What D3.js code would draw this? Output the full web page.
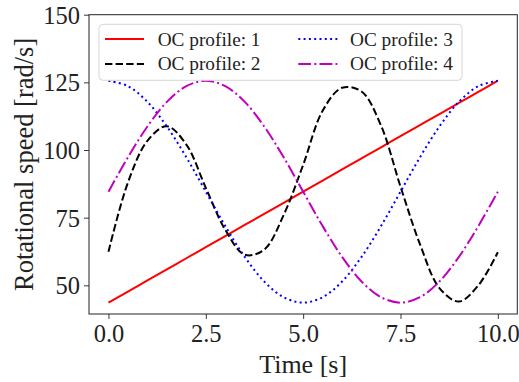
<!DOCTYPE html>
<html>
<head>
<meta charset="utf-8">
<script src="https://cdn.jsdelivr.net/npm/d3@7"></script>
<style>
  body { margin: 0; background: #fff; }
  text { font-family: "Liberation Serif", "Times New Roman", serif; }
</style>
</head>
<body>
<div id="main"></div>
<script>
// time axis (s)
var time = [0, 0.5, 1, 1.5, 2, 2.5, 3, 3.5, 4, 4.5, 5, 5.5, 6, 6.5, 7, 7.5, 8, 8.5, 9, 9.5, 10];

// rotational speed (rad/s)
var profile1 = [43.6, 47.7, 51.8, 55.9, 60.0, 64.1, 68.2, 72.3, 76.4, 80.5, 84.6, 88.7, 92.8, 96.9, 101.0, 105.1, 109.2, 113.3, 117.4, 121.5, 125.6];
var profile2 = [62.4, 88.0, 103.4, 108.8, 102.0, 86.0, 70.5, 61.3, 63.2, 76.0, 94.5, 114.5, 123.0, 121.6, 109.0, 86.5, 65.2, 49.0, 44.0, 50.0, 62.2];
var profile3 = [125.6, 123.6, 117.8, 108.7, 97.3, 84.6, 71.9, 60.5, 51.4, 45.6, 43.6, 45.6, 51.4, 60.5, 71.9, 84.6, 97.3, 108.7, 117.8, 123.6, 125.6];
var profile4 = [84.6, 97.3, 108.7, 117.8, 123.6, 125.6, 123.6, 117.8, 108.7, 97.3, 84.6, 71.9, 60.5, 51.4, 45.6, 43.6, 45.6, 51.4, 60.5, 71.9, 84.6];

var labels = ["OC profile: 1", "OC profile: 2", "OC profile: 3", "OC profile: 4"];
var xTicks = [0, 2.5, 5, 7.5, 10];
var yTicks = [50, 75, 100, 125, 150];

var series = [
  {name: labels[0], values: profile1, color: "#ff0000", dash: null},
  {name: labels[1], values: profile2, color: "#000000", dash: "7.4,3.2"},
  {name: labels[2], values: profile3, color: "#0000ff", dash: "2,3.3"},
  {name: labels[3], values: profile4, color: "#bf00bf", dash: "12.8,3.2,2,3.2"}
];

var W = 519, H = 382;
var plotL = 89, plotR = 517.3, plotT = 14.7, plotB = 314;

var svg = d3.select("#main").append("svg")
    .attr("width", W)
    .attr("height", H);

var x = d3.scaleLinear().domain([-0.5, 10.5]).range([plotL, plotR]);
var y = d3.scaleLinear().domain([39.4, 150]).range([plotB, plotT]);

var line = d3.line()
    .x(function(d) { return x(d[0]); })
    .y(function(d) { return y(d[1]); })
    .curve(d3.curveCatmullRom.alpha(0.5));

series.forEach(function(s) {
  svg.append("path")
      .datum(time.map(function(t, i) { return [t, s.values[i]]; }))
      .attr("d", line)
      .attr("fill", "none")
      .attr("stroke", s.color)
      .attr("stroke-width", 2)
      .attr("stroke-dasharray", s.dash);
});

// axes
var xAxis = svg.append("g")
    .attr("transform", "translate(0," + plotB + ")")
    .call(d3.axisBottom(x).tickValues(xTicks).tickFormat(d3.format(".1f")).tickSizeOuter(0).tickSize(5).tickPadding(6));
var yAxis = svg.append("g")
    .attr("transform", "translate(" + plotL + ",0)")
    .call(d3.axisLeft(y).tickValues(yTicks).tickFormat(d3.format("d")).tickSizeOuter(0).tickSize(5).tickPadding(4));

[xAxis, yAxis].forEach(function(a) {
  a.select(".domain").remove();
  a.selectAll(".tick line").attr("stroke", "#222").attr("stroke-width", 0.9);
  a.selectAll(".tick text")
      .attr("fill", "#222")
      .style("font-family", "'Liberation Serif', serif")
      .style("font-size", "24.5px");
});
yAxis.selectAll(".tick text").attr("dy", "0.34em");

// frame
svg.append("rect")
    .attr("x", plotL).attr("y", plotT)
    .attr("width", plotR - plotL).attr("height", plotB - plotT)
    .attr("fill", "none")
    .attr("stroke", "#222")
    .attr("stroke-width", 1);

// axis labels
svg.append("text")
    .attr("x", (plotL + plotR) / 2).attr("y", 372.5)
    .attr("text-anchor", "middle")
    .attr("fill", "#222")
    .style("font-size", "26px")
    .text("Time [s]");

svg.append("text")
    .attr("transform", "translate(33," + ((plotT + plotB) / 2) + ") rotate(-90)")
    .attr("text-anchor", "middle")
    .attr("fill", "#222")
    .style("font-size", "26.5px")
    .text("Rotational speed [rad/s]");

// legend
var legend = svg.append("g");
legend.append("rect")
    .attr("x", 99).attr("y", 24.3)
    .attr("width", 363).attr("height", 56)
    .attr("rx", 4)
    .attr("fill", "rgba(255,255,255,0.8)")
    .attr("stroke", "#d6d6d6")
    .attr("stroke-width", 1);

var slots = [
  {hx: 105, tx: 157.7, hy: 39, ty: 45.5},
  {hx: 105, tx: 157.7, hy: 64, ty: 70},
  {hx: 298.3, tx: 350, hy: 39, ty: 45.5},
  {hx: 298.3, tx: 350, hy: 64, ty: 70}
];

series.forEach(function(s, i) {
  var p = slots[i];
  legend.append("line")
      .attr("x1", p.hx).attr("x2", p.hx + 39)
      .attr("y1", p.hy).attr("y2", p.hy)
      .attr("stroke", s.color)
      .attr("stroke-width", 2)
      .attr("stroke-dasharray", s.dash);
  legend.append("text")
      .attr("x", p.tx).attr("y", p.ty)
      .attr("fill", "#222")
      .style("font-size", "19.3px")
      .text(s.name);
});
</script>
</body>
</html>
